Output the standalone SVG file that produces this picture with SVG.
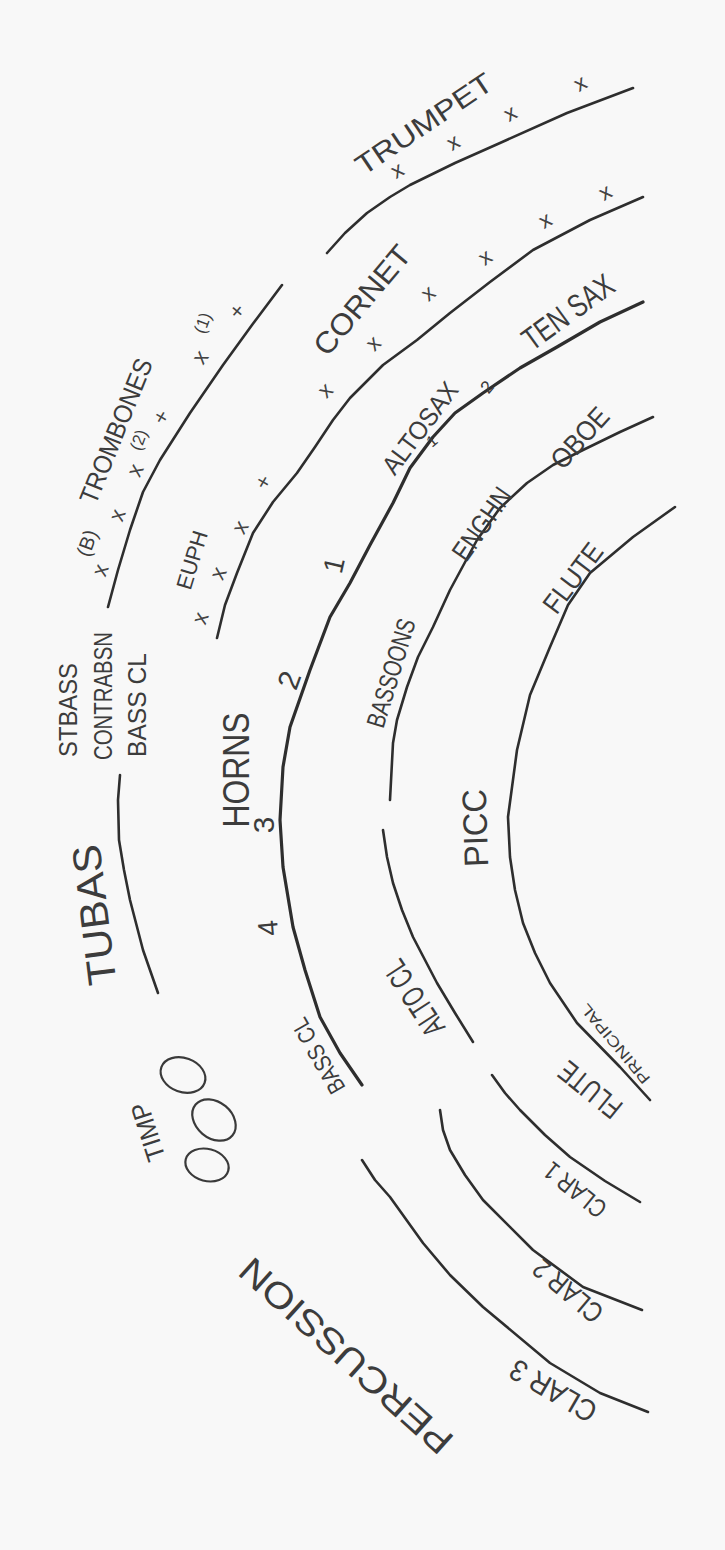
<svg xmlns="http://www.w3.org/2000/svg" width="725" height="1550" viewBox="0 0 725 1550">
<defs>
<style>
.ln{fill:none;stroke:#2e2e2e;stroke-width:2.6;stroke-linecap:round;stroke-linejoin:round}
.thick{stroke-width:3.2}
.tp{fill:none;stroke:#3a3a3a;stroke-width:2.2}
.t{font-family:"Liberation Sans",Arial,sans-serif;fill:#3c3c3c;text-anchor:middle;dominant-baseline:central}
.x{font-family:"Liberation Sans",Arial,sans-serif;fill:#444;text-anchor:middle;dominant-baseline:central;font-size:22px}
</style>
</defs>
<rect width="725" height="1550" fill="#f8f8f8"/>

<g id="arcs">
<polyline id="trombone-line" class="ln" points="108,607 118,570 130,530 143,492 160,460 190,413 223,365 252,325 282,285"/>
<polyline id="trumpet-line" class="ln" points="327,253 345,233 367,213 390,197 410,185 455,163 500,143 567,113 633,88"/>
<polyline id="cornet-line" class="ln" points="217,638 225,605 237,573 253,533 273,502 297,473 315,447 333,420 350,398 383,365 417,340 450,313 490,282 533,250 590,220 643,197"/>
<polyline id="horn-line" class="ln thick" points="643,302 600,322 557,347 520,368 483,393 455,413 433,437 410,468 393,503 370,545 350,583 330,617 310,670 290,727 283,767 280,820 283,867 293,927 305,970 320,1017 340,1053 362,1085"/>
<polyline id="tuba-line" class="ln" points="120,775 118,800 119,840 124,870 130,900 143,950 158,993"/>
<polyline id="oboe-line" class="ln" points="653,417 620,432 583,450 553,465 527,483 500,508 477,540 450,590 433,627 418,657 407,687 397,720 393,743 390,800"/>
<polyline id="altocl-line" class="ln" points="383,830 387,857 393,883 402,910 413,937 437,983 455,1013 473,1042"/>
<polyline id="flute-line" class="ln" points="675,507 633,537 590,573 568,605 550,647 530,695 517,750 508,817 510,857 515,890 523,923 535,953 550,983 577,1023 620,1067 650,1100"/>
<polyline id="clar1-line" class="ln" points="492,1075 505,1093 520,1110 545,1135 570,1157 605,1181 640,1202"/>
<polyline id="clar2-line" class="ln" points="440,1110 443,1130 450,1150 465,1175 483,1200 533,1250 583,1287 642,1310"/>
<polyline id="clar3-line" class="ln" points="362,1160 375,1180 390,1197 423,1243 450,1275 483,1307 550,1363 600,1393 648,1412"/>
</g>

<g id="timpani">
<ellipse class="tp" cx="0" cy="0" rx="23" ry="17" transform="translate(183,1075) rotate(20)"/>
<ellipse class="tp" cx="0" cy="0" rx="24" ry="18" transform="translate(214,1120) rotate(40)"/>
<ellipse class="tp" cx="0" cy="0" rx="22" ry="16" transform="translate(207,1165) rotate(15)"/>
</g>

<g id="labels">
<text class="t" font-size="28" textLength="159" lengthAdjust="spacingAndGlyphs" transform="translate(424,124) rotate(-34)">TRUMPET</text>
<text class="t" font-size="30" textLength="133" lengthAdjust="spacingAndGlyphs" transform="translate(362,300) rotate(-50)">CORNET</text>
<text class="t" font-size="22" textLength="60" lengthAdjust="spacingAndGlyphs" transform="translate(192,560) rotate(-73)">EUPH</text>
<text class="t" font-size="26" textLength="154" lengthAdjust="spacingAndGlyphs" transform="translate(116,431) rotate(-68)">TROMBONES</text>
<text class="t" font-size="20" transform="translate(87,543) rotate(-70)">(B)</text>
<text class="t" font-size="17" transform="translate(139,440) rotate(-70)">(2)</text>
<text class="t" font-size="17" transform="translate(203,323) rotate(-70)">(1)</text>
<text class="t" font-size="25" textLength="94" lengthAdjust="spacingAndGlyphs" transform="translate(68,710) rotate(-90)">STBASS</text>
<text class="t" font-size="25" textLength="128" lengthAdjust="spacingAndGlyphs" transform="translate(103,696) rotate(-90)">CONTRABSN</text>
<text class="t" font-size="25" textLength="104" lengthAdjust="spacingAndGlyphs" transform="translate(137,705) rotate(-90)">BASS CL</text>
<text class="t" font-size="40" textLength="141" lengthAdjust="spacingAndGlyphs" transform="translate(94,915) rotate(-97)">TUBAS</text>
<text class="t" font-size="36" textLength="115" lengthAdjust="spacingAndGlyphs" transform="translate(236,770) rotate(-90)">HORNS</text>
<text class="t" font-size="30" transform="translate(263,825) rotate(-90)">3</text>
<text class="t" font-size="30" transform="translate(289,680) rotate(-70)">2</text>
<text class="t" font-size="28" transform="translate(334,565) rotate(-77)">1</text>
<text class="t" font-size="28" transform="translate(268,928) rotate(-95)">4</text>
<text class="t" font-size="24" textLength="83" lengthAdjust="spacingAndGlyphs" transform="translate(318,1056) rotate(-120)">BASS CL</text>
<text class="t" font-size="26" textLength="60" lengthAdjust="spacingAndGlyphs" transform="translate(148,1132) rotate(-108)">TIMP</text>
<text class="t" font-size="26" textLength="108" lengthAdjust="spacingAndGlyphs" transform="translate(420,428) rotate(-53)">ALTOSAX</text>
<text class="t" font-size="16" transform="translate(432,441) rotate(-40)">1</text>
<text class="t" font-size="18" transform="translate(487,387) rotate(-50)">2</text>
<text class="t" font-size="32" textLength="105" lengthAdjust="spacingAndGlyphs" transform="translate(568,312) rotate(-36)">TEN SAX</text>
<text class="t" font-size="28" textLength="82" lengthAdjust="spacingAndGlyphs" transform="translate(482,524) rotate(-55)">ENGHN</text>
<text class="t" font-size="28" textLength="72" lengthAdjust="spacingAndGlyphs" transform="translate(580,438) rotate(-48)">OBOE</text>
<text class="t" font-size="28" textLength="80" lengthAdjust="spacingAndGlyphs" transform="translate(573,578) rotate(-53)">FLUTE</text>
<text class="t" font-size="26" textLength="112" lengthAdjust="spacingAndGlyphs" transform="translate(391,673) rotate(-73)">BASSOONS</text>
<text class="t" font-size="34" textLength="78" lengthAdjust="spacingAndGlyphs" transform="translate(475,828) rotate(-92)">PICC</text>
<text class="t" font-size="32" textLength="84" lengthAdjust="spacingAndGlyphs" transform="translate(414,998) rotate(-123)">ALTO CL</text>
<text class="t" font-size="30" textLength="72" lengthAdjust="spacingAndGlyphs" transform="translate(590,1090) rotate(-141)">FLUTE</text>
<text class="t" font-size="15" textLength="99" lengthAdjust="spacingAndGlyphs" transform="translate(615,1044) rotate(-130)">PRINCIPAL</text>
<text class="t" font-size="26" textLength="72" lengthAdjust="spacingAndGlyphs" transform="translate(575,1190) rotate(-141)">CLAR 1</text>
<text class="t" font-size="28" textLength="82" lengthAdjust="spacingAndGlyphs" transform="translate(568,1291) rotate(-140)">CLAR 2</text>
<text class="t" font-size="30" textLength="95" lengthAdjust="spacingAndGlyphs" transform="translate(553,1391) rotate(-150)">CLAR 3</text>
<text class="t" font-size="36" textLength="273" lengthAdjust="spacingAndGlyphs" transform="translate(346,1356) rotate(-138)">PERCUSSION</text>
</g>

<g id="seats">
<text class="x" transform="translate(397,170) rotate(-30)">x</text>
<text class="x" transform="translate(453,142) rotate(-30)">x</text>
<text class="x" transform="translate(510,113) rotate(-30)">x</text>
<text class="x" transform="translate(580,83) rotate(-30)">x</text>
<text class="x" transform="translate(325,390) rotate(-45)">x</text>
<text class="x" transform="translate(373,343) rotate(-45)">x</text>
<text class="x" transform="translate(428,293) rotate(-40)">x</text>
<text class="x" transform="translate(485,257) rotate(-35)">x</text>
<text class="x" transform="translate(545,220) rotate(-30)">x</text>
<text class="x" transform="translate(605,192) rotate(-30)">x</text>
<text class="x" font-size="28" transform="translate(263,482) rotate(-60)">+</text>
<text class="x" transform="translate(240,527) rotate(-60)">x</text>
<text class="x" transform="translate(218,573) rotate(-65)">x</text>
<text class="x" transform="translate(200,618) rotate(-70)">x</text>
<text class="x" font-size="24" transform="translate(100,570) rotate(-70)">x</text>
<text class="x" font-size="24" transform="translate(117,515) rotate(-70)">x</text>
<text class="x" font-size="24" transform="translate(135,470) rotate(-65)">x</text>
<text class="x" font-size="26" transform="translate(161,417) rotate(-60)">+</text>
<text class="x" font-size="28" transform="translate(200,357) rotate(-55)">x</text>
<text class="x" font-size="26" transform="translate(237,311) rotate(-50)">+</text>
</g>
</svg>
